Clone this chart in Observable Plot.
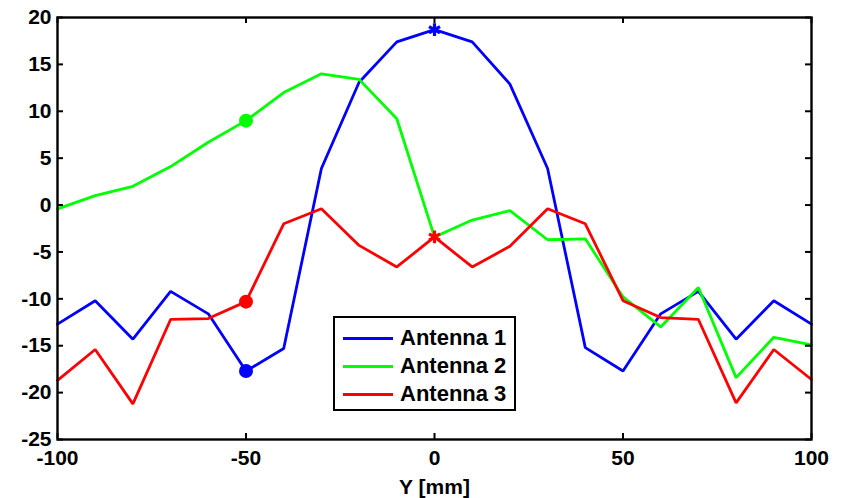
<!DOCTYPE html>
<html>
<head>
<meta charset="utf-8">
<script src="https://cdn.jsdelivr.net/npm/d3@7"></script>
<script src="https://cdn.jsdelivr.net/npm/@observablehq/plot@0.6"></script>
<style>
  html, body { margin: 0; padding: 0; background: #fff; }
  #wrap { position: relative; width: 846px; height: 498px; font-family: "Liberation Sans", Arial, sans-serif; font-weight: bold; }
  #legend { position: absolute; left: 333px; top: 316px; width: 179px; height: 91px; border: 2px solid #000; background: #fff; box-sizing: content-box; }
  .row { position: absolute; left: 8px; height: 28px; display: flex; align-items: center; font-size: 22px; color: #000; }
  .sw { width: 50px; height: 3px; margin-right: 7px; }
</style>
</head>
<body>
<div id="wrap"></div>
<script>
const yPos = [-100, -90, -80, -70, -60, -50, -40, -30, -20, -10, 0, 10, 20, 30, 40, 50, 60, 70, 80, 90, 100];
const antenna1 = [-12.7, -10.2, -14.3, -9.2, -11.6, -17.7, -15.3, 3.9, 13.1, 17.4, 18.7, 17.4, 12.9, 3.9, -15.2, -17.7, -11.6, -9.2, -14.3, -10.2, -12.7];
const antenna2 = [-0.4, 1.0, 2.0, 4.1, 6.7, 9.0, 12.0, 14.0, 13.4, 9.2, -3.4, -1.6, -0.6, -3.7, -3.6, -9.8, -13.0, -8.8, -18.4, -14.1, -14.9];
const antenna3 = [-18.7, -15.4, -21.2, -12.2, -12.1, -10.3, -2.0, -0.4, -4.3, -6.6, -3.4, -6.6, -4.4, -0.4, -2.0, -10.2, -12.0, -12.2, -21.1, -15.4, -18.6];
const seriesNames = ["Antenna 1", "Antenna 2", "Antenna 3"];
const seriesColors = ["#0000ff", "#00ff00", "#ff0000"];
const xTicks = [-100, -50, 0, 50, 100];
const yTicks = [-25, -20, -15, -10, -5, 0, 5, 10, 15, 20];
const circleAt = -50;
const starAt = 0;

const allSeries = [antenna1, antenna2, antenna3];
const rows = [];
allSeries.forEach((vals, i) => vals.forEach((v, j) => rows.push({x: yPos[j], y: v, s: seriesNames[i]})));
const circles = rows.filter(d => d.x === circleAt);
const stars = rows.filter(d => d.x === starAt && d.s !== "Antenna 2");

const W = 846, H = 498, mL = 57, mR = 35, mT = 17, mB = 59;
const pw = W - mL - mR, ph = H - mT - mB;
const fmt = d => String(d);

const chart = Plot.plot({
  width: W, height: H,
  marginLeft: mL, marginRight: mR, marginTop: mT, marginBottom: mB,
  style: {fontFamily: '"Liberation Sans", Arial, sans-serif', fontWeight: "bold", fontSize: "20px", color: "#000", background: "#fff"},
  x: {domain: [-100, 100]},
  y: {domain: [-25, 20]},
  color: {domain: seriesNames, range: seriesColors},
  marks: [
    Plot.line(rows, {x: "x", y: "y", z: "s", stroke: "s", strokeWidth: 2.8, strokeLinejoin: "miter"}),
    Plot.dot(circles, {x: "x", y: "y", fill: "s", r: 7}),
    Plot.dot(stars, {x: "x", y: "y", stroke: "s", symbol: "asterisk", r: 6, strokeWidth: 3.2}),
    Plot.tickY(yTicks, {y: d => d, insetRight: pw - 6, stroke: "#000", strokeWidth: 2}),
    Plot.tickY(yTicks, {y: d => d, insetLeft: pw - 6, stroke: "#000", strokeWidth: 2}),
    Plot.tickX(xTicks, {x: d => d, insetTop: ph - 6, stroke: "#000", strokeWidth: 2}),
    Plot.tickX(xTicks, {x: d => d, insetBottom: ph - 6, stroke: "#000", strokeWidth: 2}),
    Plot.frame({stroke: "#000", strokeWidth: 2.4}),
    Plot.axisY(yTicks, {tickSize: 0, tickPadding: 6, label: null, fontSize: 21, tickFormat: fmt}),
    Plot.axisX(xTicks, {tickSize: 0, tickPadding: 11, label: "Y [mm]", labelAnchor: "center", labelArrow: "none", labelOffset: 54, fontSize: 21, tickFormat: fmt})
  ]
});
const wrap = document.getElementById("wrap");
wrap.appendChild(chart);

const legend = document.createElement("div");
legend.id = "legend";
seriesNames.forEach((name, i) => {
  const r = document.createElement("div");
  r.className = "row";
  r.style.top = (6 + i * 28) + "px";
  const sw = document.createElement("div");
  sw.className = "sw";
  sw.style.background = seriesColors[i];
  const t = document.createElement("span");
  t.textContent = name;
  r.appendChild(sw); r.appendChild(t);
  legend.appendChild(r);
});
wrap.appendChild(legend);
</script>
</body>
</html>
